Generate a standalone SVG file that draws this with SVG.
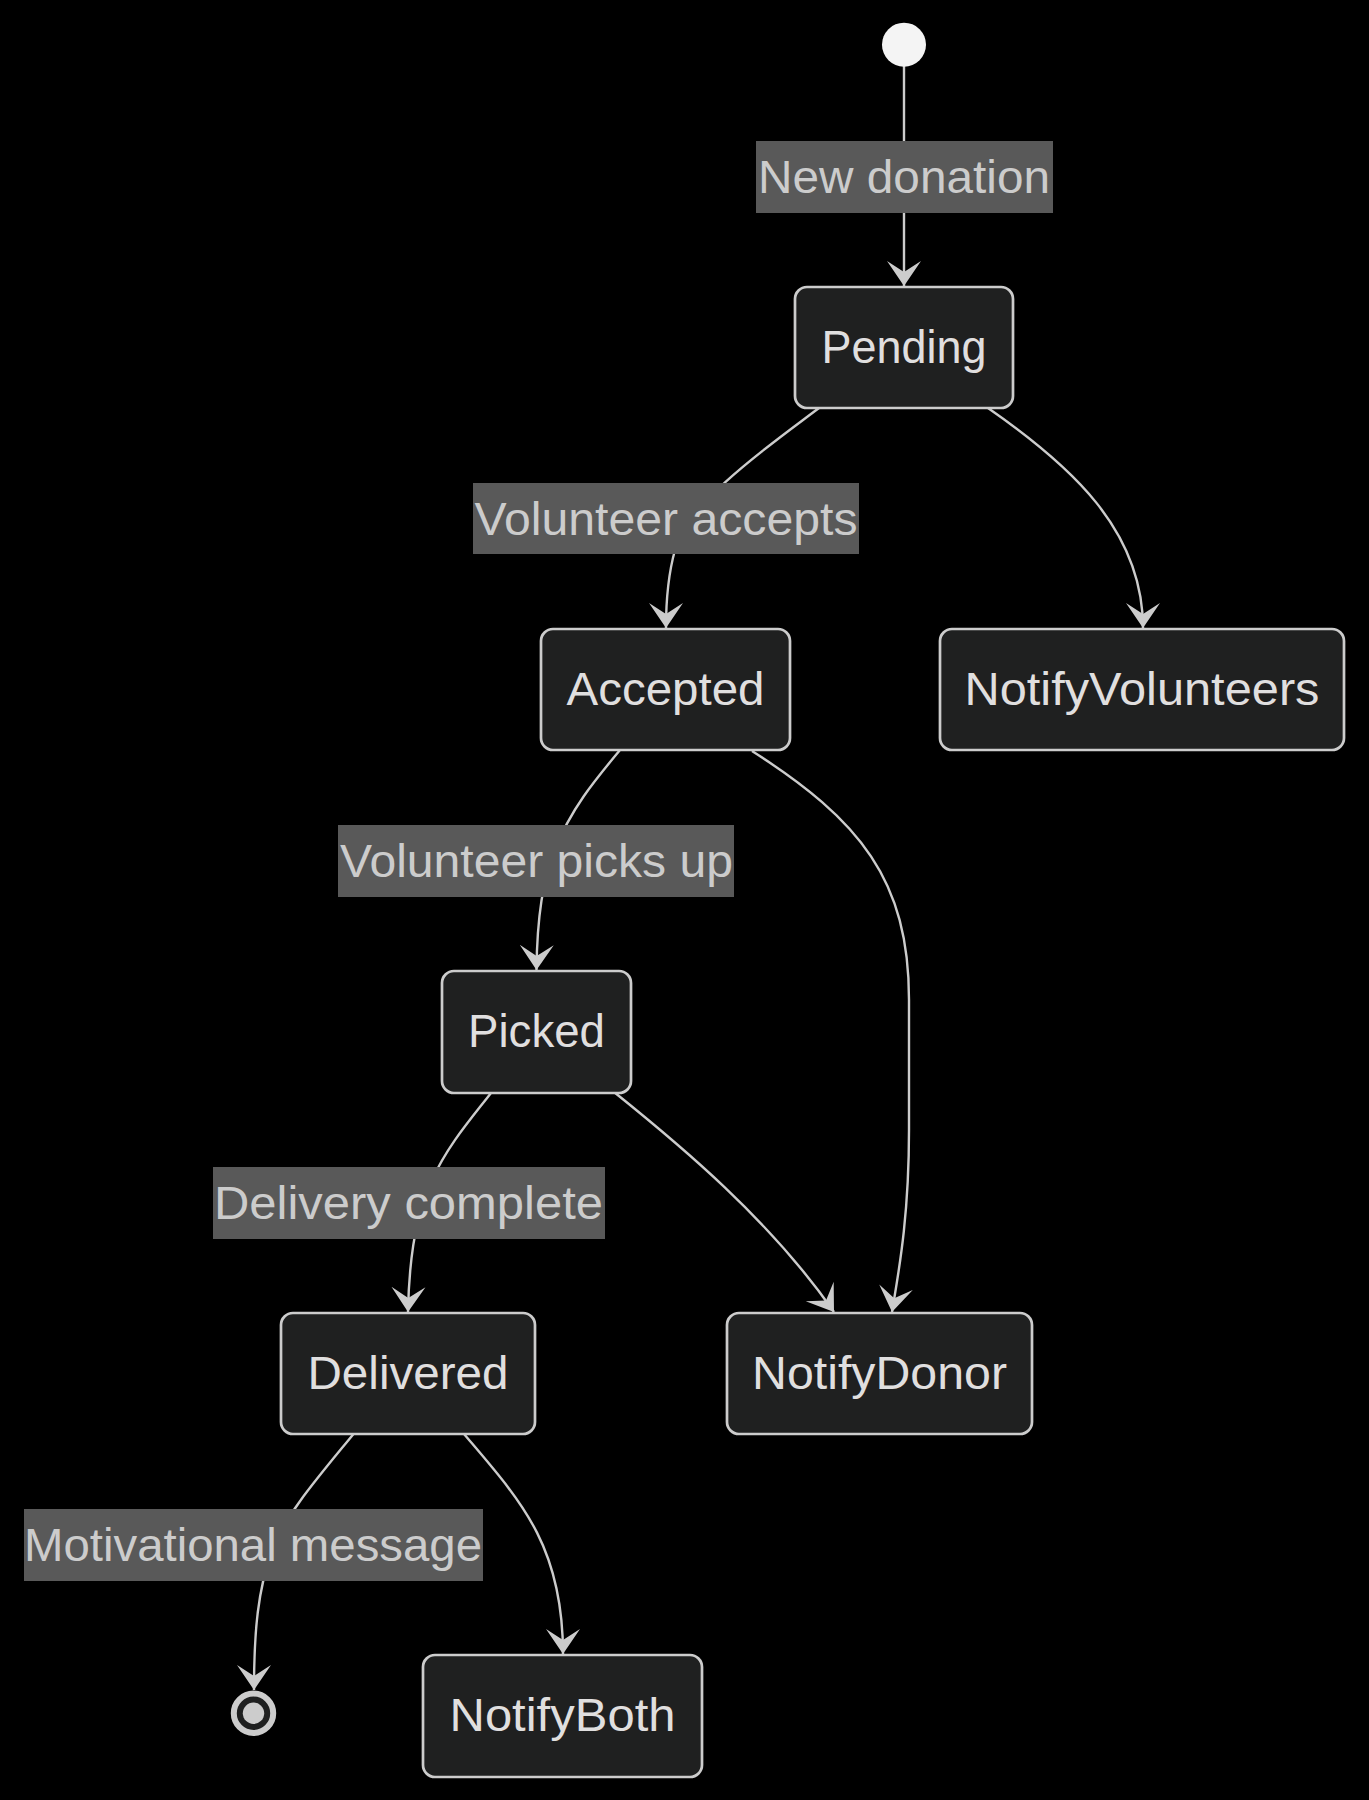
<svg xmlns="http://www.w3.org/2000/svg" width="1369" height="1800" viewBox="0 0 1369 1800">
<style>
.bg{fill:#000}
.node rect{fill:#1f2020;stroke:#cccccc;stroke-width:2.7}
.node text{fill:#e0dfdf;font-family:"Liberation Sans",Arial,sans-serif;font-size:47px;text-anchor:middle}
.edge{fill:none;stroke:#cccccc;stroke-width:2.4}
.lbl rect{fill:#595959}
.lbl text{fill:#cccccc;font-family:"Liberation Sans",Arial,sans-serif;font-size:47px;text-anchor:middle}
</style>
<defs>
<marker id="arrow" markerUnits="userSpaceOnUse" markerWidth="50" markerHeight="50" viewBox="-30 -25 50 50" refX="0" refY="0" orient="auto">
<path d="M0,0 L-25,-17 L-14,0 L-25,17 Z" fill="#cccccc"/>
</marker>
</defs>
<rect class="bg" x="0" y="0" width="1369" height="1800"/>

<g id="connectors">
<path class="edge" d="M904,66 L904,286" marker-end="url(#arrow)"/>
<path class="edge" d="M819,408 C 770,445 690,500 675,550 C 668,575 666,600 666,628" marker-end="url(#arrow)"/>
<path class="edge" d="M988,408 C 1070,465 1143,530 1143,628" marker-end="url(#arrow)"/>
<path class="edge" d="M620,750 C 595,780 570,810 555,850 C 542,880 537,920 536.5,970" marker-end="url(#arrow)"/>
<path class="edge" d="M752,751 C 860,820 909,880 909,1000 L 909,1130 C 909,1220 898,1275 892,1312" marker-end="url(#arrow)"/>
<path class="edge" d="M614,1092 C 680,1145 770,1220 834,1312" marker-end="url(#arrow)"/>
<path class="edge" d="M491,1093 C 470,1120 448,1145 432,1180 C 415,1215 409,1260 408,1312" marker-end="url(#arrow)"/>
<path class="edge" d="M353.5,1434 C 320,1475 285,1515 272,1550 C 258,1590 254,1630 254,1690" marker-end="url(#arrow)"/>
<path class="edge" d="M464,1434 C 520,1500 563,1545 563,1654" marker-end="url(#arrow)"/>
</g>

<g id="edge-labels">
<g class="lbl" id="label-new-donation"><rect x="756" y="141" width="297" height="72"/><text x="904" y="193" textLength="292" lengthAdjust="spacingAndGlyphs">New donation</text></g>
<g class="lbl" id="label-volunteer-accepts"><rect x="473" y="483" width="386" height="71"/><text x="666" y="535" textLength="383" lengthAdjust="spacingAndGlyphs">Volunteer accepts</text></g>
<g class="lbl" id="label-volunteer-picks-up"><rect x="338" y="825" width="396" height="72"/><text x="536.5" y="877" textLength="393" lengthAdjust="spacingAndGlyphs">Volunteer picks up</text></g>
<g class="lbl" id="label-delivery-complete"><rect x="213" y="1167" width="392" height="72"/><text x="408.5" y="1219" textLength="389" lengthAdjust="spacingAndGlyphs">Delivery complete</text></g>
<g class="lbl" id="label-motivational-message"><rect x="24" y="1509" width="459" height="72"/><text x="253" y="1561" textLength="458" lengthAdjust="spacingAndGlyphs">Motivational message</text></g>
</g>

<g id="start"><circle cx="904" cy="44.7" r="22" fill="#f4f4f4"/></g>

<g class="node" id="Pending"><rect x="795" y="287" width="218" height="121" rx="12"/><text x="904" y="363" textLength="165" lengthAdjust="spacingAndGlyphs">Pending</text></g>
<g class="node" id="Accepted"><rect x="541" y="629" width="249" height="121" rx="12"/><text x="665.5" y="705" textLength="198" lengthAdjust="spacingAndGlyphs">Accepted</text></g>
<g class="node" id="NotifyVolunteers"><rect x="940" y="629" width="404" height="121" rx="12"/><text x="1142" y="705" textLength="355" lengthAdjust="spacingAndGlyphs">NotifyVolunteers</text></g>
<g class="node" id="Picked"><rect x="442" y="971" width="189" height="122" rx="12"/><text x="536.5" y="1047" textLength="137" lengthAdjust="spacingAndGlyphs">Picked</text></g>
<g class="node" id="Delivered"><rect x="281" y="1313" width="254" height="121" rx="12"/><text x="408" y="1389" textLength="201" lengthAdjust="spacingAndGlyphs">Delivered</text></g>
<g class="node" id="NotifyDonor"><rect x="727" y="1313" width="305" height="121" rx="12"/><text x="879.5" y="1389" textLength="255" lengthAdjust="spacingAndGlyphs">NotifyDonor</text></g>
<g class="node" id="NotifyBoth"><rect x="423" y="1655" width="279" height="122" rx="12"/><text x="562.5" y="1731" textLength="226" lengthAdjust="spacingAndGlyphs">NotifyBoth</text></g>

<g id="end"><circle cx="253.5" cy="1713.3" r="19.7" fill="#1f2020" stroke="#cccccc" stroke-width="6"/><circle cx="253.5" cy="1713.3" r="10.7" fill="#cccccc"/></g>
</svg>
